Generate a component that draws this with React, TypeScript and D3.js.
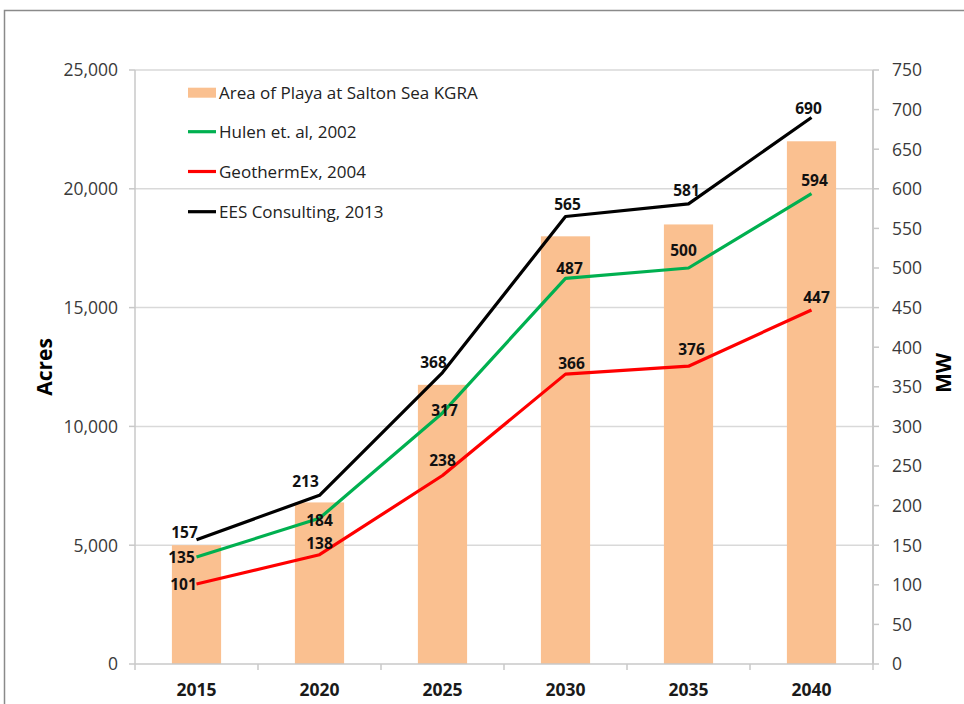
import React, { useEffect, useRef } from "react";
import * as d3 from "d3";

// chart values
const years = ["2015", "2020", "2025", "2030", "2035", "2040"];
const playaAcres = [5000, 6800, 11750, 18000, 18500, 22000];
const hulenMW = [135, 184, 317, 487, 500, 594];
const geothermexMW = [101, 138, 238, 366, 376, 447];
const eesMW = [157, 213, 368, 565, 581, 690];
const acresTicks = [0, 5000, 10000, 15000, 20000, 25000];
const mwTicks = [0, 50, 100, 150, 200, 250, 300, 350, 400, 450, 500, 550, 600, 650, 700, 750];

const legendNames = [
  "Area of Playa at Salton Sea KGRA",
  "Hulen et. al, 2002",
  "GeothermEx, 2004",
  "EES Consulting, 2013",
];

// hand placed data labels (offset of text centre from the point)
const eesNudge = [[-12, -7], [-14, -14], [-9, -10], [2, -12], [-2, -13], [-3, -9]];
const hulenNudge = [[-15, 0], [0, 2], [2, -3], [4, -10], [-5, -18], [3, -13]];
const geoNudge = [[-13, 0], [0, -11], [0, -15], [6, -11], [3, -17], [5, -13]];

const FONT = "'Open Sans', 'Liberation Sans', sans-serif";

const App: React.FC = () => {
  const ref = useRef<SVGSVGElement>(null);

  useEffect(() => {
    if (!ref.current) return;
    const svg = d3.select(ref.current);
    svg.selectAll("*").remove();

    const left = 135;
    const right = 873;
    const top = 70;
    const bottom = 664;

    // frame
    svg
      .append("rect")
      .attr("x", 4.5)
      .attr("y", 10.5)
      .attr("width", 1000)
      .attr("height", 1000)
      .attr("fill", "none")
      .attr("stroke", "#8a8a8a")
      .attr("stroke-width", 1.5);

    const x = d3.scaleBand<string>().domain(years).range([left, right]).paddingInner(0.6).paddingOuter(0.3);
    const xEdge = d3.scaleBand<string>().domain(years).range([left, right]);
    const yL = d3.scaleLinear().domain([0, 25000]).range([bottom, top]);
    const yR = d3.scaleLinear().domain([0, 750]).range([bottom, top]);
    const cx = (i: number) => (x(years[i]) as number) + x.bandwidth() / 2;

    // grid
    svg
      .append("g")
      .selectAll("line")
      .data(acresTicks.filter((d) => d > 0))
      .join("line")
      .attr("x1", left)
      .attr("x2", right)
      .attr("y1", (d) => yL(d))
      .attr("y2", (d) => yL(d))
      .attr("stroke", "#d9d9d9")
      .attr("stroke-width", 1.5);

    // bars
    svg
      .append("g")
      .selectAll("rect")
      .data(playaAcres)
      .join("rect")
      .attr("x", (_, i) => x(years[i]) as number)
      .attr("y", (d) => yL(d))
      .attr("width", x.bandwidth())
      .attr("height", (d) => bottom - yL(d))
      .attr("fill", "#fac090");

    // axes
    const axisColor = "#c8c8c8";
    const gL = svg.append("g").attr("transform", `translate(${left},0)`);
    gL.append("line").attr("y1", top).attr("y2", bottom).attr("stroke", axisColor).attr("stroke-width", 1.5);
    acresTicks.forEach((t) => {
      gL.append("line").attr("x1", -6).attr("x2", 0).attr("y1", yL(t)).attr("y2", yL(t)).attr("stroke", axisColor).attr("stroke-width", 1.5);
      gL.append("text")
        .attr("x", -17)
        .attr("y", yL(t))
        .attr("dy", "0.36em")
        .attr("text-anchor", "end")
        .attr("font-size", 17.5)
        .attr("fill", "#3a3a3a")
        .text(d3.format(",")(t));
    });

    const gR = svg.append("g").attr("transform", `translate(${right},0)`);
    gR.append("line").attr("y1", top).attr("y2", bottom).attr("stroke", axisColor).attr("stroke-width", 2);
    mwTicks.forEach((t) => {
      gR.append("line").attr("x1", 0).attr("x2", 6).attr("y1", yR(t)).attr("y2", yR(t)).attr("stroke", axisColor).attr("stroke-width", 1.5);
      gR.append("text")
        .attr("x", 19)
        .attr("y", yR(t))
        .attr("dy", "0.36em")
        .attr("font-size", 17.5)
        .attr("fill", "#3a3a3a")
        .text(t);
    });

    svg.append("line").attr("x1", left).attr("x2", right).attr("y1", bottom).attr("y2", bottom).attr("stroke", axisColor).attr("stroke-width", 1.5);
    years.forEach((yr, i) => {
      const ex = xEdge(yr) as number;
      svg.append("line").attr("x1", ex).attr("x2", ex).attr("y1", bottom).attr("y2", bottom + 6).attr("stroke", axisColor).attr("stroke-width", 1.5);
      svg
        .append("text")
        .attr("x", cx(i))
        .attr("y", 690)
        .attr("dy", "0.36em")
        .attr("text-anchor", "middle")
        .attr("font-size", 17.5)
        .attr("font-weight", "bold")
        .attr("fill", "#1a1a1a")
        .text(yr);
    });
    svg.append("line").attr("x1", right).attr("x2", right).attr("y1", bottom).attr("y2", bottom + 6).attr("stroke", axisColor).attr("stroke-width", 1.5);

    // axis titles
    svg
      .append("text")
      .attr("transform", `translate(44,367) rotate(-90)`)
      .attr("dy", "0.36em")
      .attr("text-anchor", "middle")
      .attr("font-size", 21)
      .attr("font-weight", "bold")
      .text("Acres");
    svg
      .append("text")
      .attr("transform", `translate(943,373) rotate(-90)`)
      .attr("dy", "0.36em")
      .attr("text-anchor", "middle")
      .attr("font-size", 21)
      .attr("font-weight", "bold")
      .text("MW");

    // lines
    const line = d3
      .line<number>()
      .x((_, i) => cx(i))
      .y((d) => yR(d));

    const series = [
      { values: hulenMW, color: "#00b050", nudge: hulenNudge },
      { values: geothermexMW, color: "#ff0000", nudge: geoNudge },
      { values: eesMW, color: "#000000", nudge: eesNudge },
    ];

    series.forEach((s) => {
      svg
        .append("path")
        .datum(s.values)
        .attr("fill", "none")
        .attr("stroke", s.color)
        .attr("stroke-width", 3.2)
        .attr("stroke-linejoin", "round")
        .attr("d", line);
    });

    series.forEach((s) => {
      svg
        .append("g")
        .selectAll("text")
        .data(s.values)
        .join("text")
        .attr("x", (_, i) => cx(i) + s.nudge[i][0])
        .attr("y", (d, i) => yR(d) + s.nudge[i][1])
        .attr("dy", "0.36em")
        .attr("text-anchor", "middle")
        .attr("font-size", 15.5)
        .attr("font-weight", "bold")
        .attr("fill", "#111")
        .text((d) => d);
    });

    // legend
    const lg = svg.append("g").attr("font-size", 17).attr("fill", "#222");
    const rowY = [92.7, 131.7, 171.5, 211.7];
    const legendColors = ["#fac090", "#00b050", "#ff0000", "#000000"];
    legendNames.forEach((name, i) => {
      if (i === 0) {
        lg.append("rect").attr("x", 188).attr("y", rowY[i] - 5).attr("width", 28).attr("height", 10).attr("fill", legendColors[i]);
      } else {
        lg.append("line").attr("x1", 188).attr("x2", 216).attr("y1", rowY[i]).attr("y2", rowY[i]).attr("stroke", legendColors[i]).attr("stroke-width", 3.2);
      }
      lg.append("text").attr("x", 219).attr("y", rowY[i]).attr("dy", "0.36em").text(name);
    });
  }, []);

  return (
    <svg
      ref={ref}
      width={964}
      height={704}
      style={{ position: "absolute", left: 0, top: 0, background: "#fff", fontFamily: FONT }}
    />
  );
};

export default App;
